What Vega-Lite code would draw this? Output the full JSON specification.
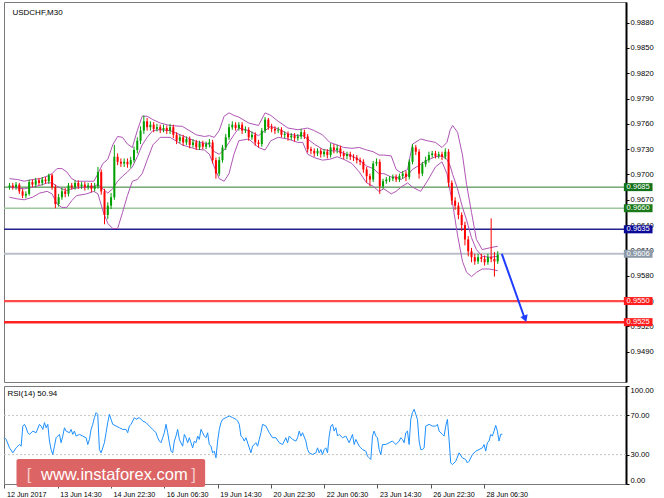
{
  "$schema": "https://vega.github.io/schema/vega-lite/v6.json",
  "background": "#ffffff",
  "padding": {"left": 1, "top": 1, "right": 0, "bottom": 0},
  "spacing": 2,
  "config": {
    "font": "Liberation Sans",
    "view": {"stroke": "#7a7a7a", "strokeWidth": 1},
    "axis": {"grid": false, "labels": true, "ticks": true, "labelFont": "Liberation Sans", "labelColor": "#000000", "tickColor": "#000000", "domainColor": "#000000"},
    "text": {"font": "Liberation Sans"}
  },
  "datasets": {
    "levels": [
      {"p": 0.9685, "lab": "0.9685"},
      {"p": 0.966, "lab": "0.9660"},
      {"p": 0.9635, "lab": "0.9635"},
      {"p": 0.9606, "lab": "0.9606"},
      {"p": 0.955, "lab": "0.9550"},
      {"p": 0.9525, "lab": "0.9525"}
    ],
    "arrow": [{"i": 601, "p": 0.9606}, {"i": 628, "p": 0.9532}],
    "arrowhead": [{"i": 629.5, "p": 0.9529}],
    "rsilevels": [{"v": 70}, {"v": 30}],
    "candles": [
      {"i":0,"o":0.9685,"h":0.969,"l":0.9682,"c":0.9687},
      {"i":4,"o":0.9687,"h":0.969,"l":0.9682,"c":0.9685},
      {"i":8,"o":0.9685,"h":0.9691,"l":0.9682,"c":0.9688},
      {"i":12,"o":0.9688,"h":0.969,"l":0.9677,"c":0.968},
      {"i":16,"o":0.968,"h":0.9683,"l":0.9672,"c":0.9675},
      {"i":20,"o":0.9675,"h":0.968,"l":0.9672,"c":0.9677},
      {"i":24,"o":0.9677,"h":0.9694,"l":0.9675,"c":0.9691},
      {"i":28,"o":0.9691,"h":0.9694,"l":0.9685,"c":0.9688},
      {"i":32,"o":0.9688,"h":0.9696,"l":0.9685,"c":0.9693},
      {"i":36,"o":0.9693,"h":0.9696,"l":0.9687,"c":0.969},
      {"i":40,"o":0.969,"h":0.9697,"l":0.9687,"c":0.9694},
      {"i":44,"o":0.9694,"h":0.9697,"l":0.9689,"c":0.9692},
      {"i":48,"o":0.9692,"h":0.9701,"l":0.9689,"c":0.9699},
      {"i":52,"o":0.9699,"h":0.9701,"l":0.9682,"c":0.9685},
      {"i":56,"o":0.9685,"h":0.9688,"l":0.966,"c":0.9665},
      {"i":60,"o":0.9665,"h":0.9677,"l":0.9662,"c":0.9673},
      {"i":64,"o":0.9673,"h":0.9684,"l":0.967,"c":0.968},
      {"i":68,"o":0.968,"h":0.9684,"l":0.9673,"c":0.9677},
      {"i":72,"o":0.9677,"h":0.969,"l":0.9674,"c":0.9687},
      {"i":76,"o":0.9687,"h":0.969,"l":0.9682,"c":0.9685},
      {"i":80,"o":0.9685,"h":0.9693,"l":0.9682,"c":0.969},
      {"i":84,"o":0.969,"h":0.9693,"l":0.9683,"c":0.9686},
      {"i":88,"o":0.9686,"h":0.9691,"l":0.9683,"c":0.9688},
      {"i":92,"o":0.9688,"h":0.9691,"l":0.9681,"c":0.9685},
      {"i":96,"o":0.9685,"h":0.969,"l":0.9682,"c":0.9687},
      {"i":100,"o":0.9687,"h":0.969,"l":0.9679,"c":0.9683},
      {"i":104,"o":0.9683,"h":0.969,"l":0.968,"c":0.9686},
      {"i":108,"o":0.9686,"h":0.9709,"l":0.9683,"c":0.9703},
      {"i":112,"o":0.9703,"h":0.9706,"l":0.9676,"c":0.968},
      {"i":116,"o":0.968,"h":0.9683,"l":0.9641,"c":0.9652},
      {"i":120,"o":0.9652,"h":0.9667,"l":0.9647,"c":0.9663},
      {"i":124,"o":0.9663,"h":0.9678,"l":0.9659,"c":0.9673},
      {"i":128,"o":0.9673,"h":0.9735,"l":0.967,"c":0.9721},
      {"i":132,"o":0.9721,"h":0.9725,"l":0.9711,"c":0.9715},
      {"i":136,"o":0.9715,"h":0.9719,"l":0.9709,"c":0.9713},
      {"i":140,"o":0.9713,"h":0.9719,"l":0.9709,"c":0.9715},
      {"i":144,"o":0.9715,"h":0.9719,"l":0.9708,"c":0.9712},
      {"i":148,"o":0.9712,"h":0.9721,"l":0.9708,"c":0.9717},
      {"i":152,"o":0.9717,"h":0.9733,"l":0.9714,"c":0.9729},
      {"i":156,"o":0.9729,"h":0.9744,"l":0.9725,"c":0.974},
      {"i":160,"o":0.974,"h":0.9757,"l":0.9736,"c":0.9752},
      {"i":164,"o":0.9752,"h":0.977,"l":0.9748,"c":0.9763},
      {"i":168,"o":0.9763,"h":0.9767,"l":0.9752,"c":0.9756},
      {"i":172,"o":0.9756,"h":0.9763,"l":0.9752,"c":0.9759},
      {"i":176,"o":0.9759,"h":0.9762,"l":0.975,"c":0.9754},
      {"i":180,"o":0.9754,"h":0.976,"l":0.9751,"c":0.9756},
      {"i":184,"o":0.9756,"h":0.9759,"l":0.9749,"c":0.9753},
      {"i":188,"o":0.9753,"h":0.9759,"l":0.975,"c":0.9755},
      {"i":192,"o":0.9755,"h":0.9758,"l":0.9748,"c":0.9752},
      {"i":196,"o":0.9752,"h":0.976,"l":0.9748,"c":0.9756},
      {"i":200,"o":0.9756,"h":0.9759,"l":0.9743,"c":0.9747},
      {"i":204,"o":0.9747,"h":0.975,"l":0.9736,"c":0.974},
      {"i":208,"o":0.974,"h":0.9747,"l":0.9737,"c":0.9744},
      {"i":212,"o":0.9744,"h":0.9747,"l":0.9734,"c":0.9738},
      {"i":216,"o":0.9738,"h":0.9745,"l":0.9735,"c":0.9742},
      {"i":220,"o":0.9742,"h":0.9745,"l":0.9731,"c":0.9735},
      {"i":224,"o":0.9735,"h":0.9742,"l":0.9732,"c":0.9738},
      {"i":228,"o":0.9738,"h":0.9741,"l":0.9729,"c":0.9732},
      {"i":232,"o":0.9732,"h":0.974,"l":0.9729,"c":0.9737},
      {"i":236,"o":0.9737,"h":0.974,"l":0.973,"c":0.9733},
      {"i":240,"o":0.9733,"h":0.9739,"l":0.973,"c":0.9736},
      {"i":244,"o":0.9736,"h":0.9742,"l":0.9732,"c":0.9738},
      {"i":248,"o":0.9738,"h":0.9741,"l":0.9713,"c":0.9717},
      {"i":252,"o":0.9717,"h":0.972,"l":0.9695,"c":0.9701},
      {"i":256,"o":0.9701,"h":0.9721,"l":0.9698,"c":0.9717},
      {"i":260,"o":0.9717,"h":0.9735,"l":0.9714,"c":0.9732},
      {"i":264,"o":0.9732,"h":0.9748,"l":0.9729,"c":0.9744},
      {"i":268,"o":0.9744,"h":0.976,"l":0.9741,"c":0.9756},
      {"i":272,"o":0.9756,"h":0.9763,"l":0.9753,"c":0.9759},
      {"i":276,"o":0.9759,"h":0.9762,"l":0.9752,"c":0.9755},
      {"i":280,"o":0.9755,"h":0.9762,"l":0.9752,"c":0.9759},
      {"i":284,"o":0.9759,"h":0.9762,"l":0.9748,"c":0.9752},
      {"i":288,"o":0.9752,"h":0.9757,"l":0.9749,"c":0.9753},
      {"i":292,"o":0.9753,"h":0.9756,"l":0.974,"c":0.9744},
      {"i":296,"o":0.9744,"h":0.9751,"l":0.9741,"c":0.9747},
      {"i":300,"o":0.9747,"h":0.975,"l":0.9734,"c":0.9738},
      {"i":304,"o":0.9738,"h":0.9741,"l":0.9732,"c":0.9736},
      {"i":308,"o":0.9736,"h":0.9755,"l":0.9733,"c":0.9752},
      {"i":312,"o":0.9752,"h":0.9768,"l":0.9749,"c":0.9765},
      {"i":316,"o":0.9765,"h":0.9767,"l":0.9753,"c":0.9756},
      {"i":320,"o":0.9756,"h":0.976,"l":0.975,"c":0.9754},
      {"i":324,"o":0.9754,"h":0.9757,"l":0.9748,"c":0.9752},
      {"i":328,"o":0.9752,"h":0.9756,"l":0.9749,"c":0.9753},
      {"i":332,"o":0.9753,"h":0.9756,"l":0.9744,"c":0.9747},
      {"i":336,"o":0.9747,"h":0.9751,"l":0.9743,"c":0.9748},
      {"i":340,"o":0.9748,"h":0.9751,"l":0.974,"c":0.9744},
      {"i":344,"o":0.9744,"h":0.9749,"l":0.9741,"c":0.9746},
      {"i":348,"o":0.9746,"h":0.9749,"l":0.9739,"c":0.9743},
      {"i":352,"o":0.9743,"h":0.9748,"l":0.974,"c":0.9745},
      {"i":356,"o":0.9745,"h":0.9754,"l":0.9742,"c":0.975},
      {"i":360,"o":0.975,"h":0.9753,"l":0.9742,"c":0.9745},
      {"i":364,"o":0.9745,"h":0.9748,"l":0.9726,"c":0.973},
      {"i":368,"o":0.973,"h":0.9733,"l":0.9724,"c":0.9728},
      {"i":372,"o":0.9728,"h":0.9731,"l":0.9721,"c":0.9725},
      {"i":376,"o":0.9725,"h":0.9731,"l":0.9722,"c":0.9728},
      {"i":380,"o":0.9728,"h":0.9731,"l":0.972,"c":0.9724},
      {"i":384,"o":0.9724,"h":0.973,"l":0.9721,"c":0.9727},
      {"i":388,"o":0.9727,"h":0.973,"l":0.9719,"c":0.9723},
      {"i":392,"o":0.9723,"h":0.9737,"l":0.972,"c":0.9732},
      {"i":396,"o":0.9732,"h":0.9736,"l":0.9725,"c":0.9729},
      {"i":400,"o":0.9729,"h":0.9735,"l":0.9725,"c":0.9731},
      {"i":404,"o":0.9731,"h":0.9734,"l":0.9721,"c":0.9725},
      {"i":408,"o":0.9725,"h":0.9728,"l":0.9718,"c":0.9722},
      {"i":412,"o":0.9722,"h":0.9727,"l":0.9718,"c":0.9724},
      {"i":416,"o":0.9724,"h":0.9727,"l":0.9717,"c":0.9721},
      {"i":420,"o":0.9721,"h":0.9724,"l":0.9716,"c":0.972},
      {"i":424,"o":0.972,"h":0.9723,"l":0.9713,"c":0.9717},
      {"i":428,"o":0.9717,"h":0.972,"l":0.9711,"c":0.9715},
      {"i":432,"o":0.9715,"h":0.9718,"l":0.9702,"c":0.9706},
      {"i":436,"o":0.9706,"h":0.9709,"l":0.969,"c":0.9698},
      {"i":440,"o":0.9698,"h":0.9701,"l":0.9686,"c":0.9694},
      {"i":444,"o":0.9694,"h":0.9716,"l":0.9691,"c":0.9713},
      {"i":448,"o":0.9713,"h":0.9719,"l":0.971,"c":0.9715},
      {"i":452,"o":0.9715,"h":0.9718,"l":0.9677,"c":0.9686},
      {"i":456,"o":0.9686,"h":0.9695,"l":0.9683,"c":0.9692},
      {"i":460,"o":0.9692,"h":0.9697,"l":0.9689,"c":0.9694},
      {"i":464,"o":0.9694,"h":0.9698,"l":0.9691,"c":0.9695},
      {"i":468,"o":0.9695,"h":0.97,"l":0.9692,"c":0.9697},
      {"i":472,"o":0.9697,"h":0.97,"l":0.9691,"c":0.9694},
      {"i":476,"o":0.9694,"h":0.9701,"l":0.9691,"c":0.9698},
      {"i":480,"o":0.9698,"h":0.9704,"l":0.9695,"c":0.9701},
      {"i":484,"o":0.9701,"h":0.9704,"l":0.9692,"c":0.9697},
      {"i":488,"o":0.9697,"h":0.9718,"l":0.9694,"c":0.9715},
      {"i":492,"o":0.9715,"h":0.9736,"l":0.9712,"c":0.9732},
      {"i":496,"o":0.9732,"h":0.9735,"l":0.9723,"c":0.9727},
      {"i":500,"o":0.9727,"h":0.973,"l":0.9695,"c":0.9701},
      {"i":504,"o":0.9701,"h":0.9715,"l":0.9698,"c":0.9712},
      {"i":508,"o":0.9712,"h":0.9721,"l":0.9709,"c":0.9717},
      {"i":512,"o":0.9717,"h":0.9727,"l":0.9714,"c":0.9723},
      {"i":516,"o":0.9723,"h":0.9728,"l":0.972,"c":0.9725},
      {"i":520,"o":0.9725,"h":0.9728,"l":0.9719,"c":0.9722},
      {"i":524,"o":0.9722,"h":0.9727,"l":0.9719,"c":0.9724},
      {"i":528,"o":0.9724,"h":0.9727,"l":0.9717,"c":0.9721},
      {"i":532,"o":0.9721,"h":0.9731,"l":0.9718,"c":0.9727},
      {"i":536,"o":0.9727,"h":0.973,"l":0.9685,"c":0.969},
      {"i":540,"o":0.969,"h":0.9693,"l":0.9664,"c":0.9669},
      {"i":544,"o":0.9669,"h":0.9673,"l":0.9658,"c":0.9663},
      {"i":548,"o":0.9663,"h":0.9667,"l":0.9647,"c":0.9652},
      {"i":552,"o":0.9652,"h":0.9655,"l":0.9633,"c":0.964},
      {"i":556,"o":0.964,"h":0.9644,"l":0.9616,"c":0.9623},
      {"i":560,"o":0.9623,"h":0.9627,"l":0.9603,"c":0.9609},
      {"i":564,"o":0.9609,"h":0.9613,"l":0.9596,"c":0.9602},
      {"i":568,"o":0.9602,"h":0.9606,"l":0.9593,"c":0.9597},
      {"i":572,"o":0.9597,"h":0.9606,"l":0.9594,"c":0.9602},
      {"i":576,"o":0.9602,"h":0.9606,"l":0.9596,"c":0.96},
      {"i":580,"o":0.96,"h":0.9604,"l":0.9592,"c":0.9596},
      {"i":584,"o":0.9596,"h":0.9606,"l":0.9593,"c":0.9602},
      {"i":588,"o":0.9602,"h":0.9648,"l":0.9596,"c":0.96},
      {"i":592,"o":0.96,"h":0.9608,"l":0.9579,"c":0.9597},
      {"i":596,"o":0.9597,"h":0.9609,"l":0.9594,"c":0.9605}
    ],
    "bands": [
      {"i":0,"u":0.9695,"m":0.9685,"l":0.9673},
      {"i":10,"u":0.9694,"m":0.9684,"l":0.9671},
      {"i":18,"u":0.9692,"m":0.9683,"l":0.967},
      {"i":28,"u":0.9694,"m":0.9685,"l":0.9673},
      {"i":37,"u":0.9695,"m":0.9687,"l":0.9678},
      {"i":46,"u":0.9698,"m":0.969,"l":0.968},
      {"i":52,"u":0.9701,"m":0.969,"l":0.9677},
      {"i":58,"u":0.9707,"m":0.9686,"l":0.9665},
      {"i":64,"u":0.9707,"m":0.9683,"l":0.9661},
      {"i":70,"u":0.9703,"m":0.9681,"l":0.9661},
      {"i":76,"u":0.9695,"m":0.9683,"l":0.9669},
      {"i":82,"u":0.9692,"m":0.9684,"l":0.9675},
      {"i":94,"u":0.9692,"m":0.9685,"l":0.9677},
      {"i":103,"u":0.9692,"m":0.9686,"l":0.968},
      {"i":108,"u":0.9701,"m":0.9688,"l":0.9677},
      {"i":114,"u":0.9713,"m":0.9683,"l":0.9657},
      {"i":120,"u":0.9718,"m":0.9678,"l":0.9642},
      {"i":126,"u":0.9735,"m":0.9683,"l":0.9636},
      {"i":132,"u":0.9745,"m":0.9692,"l":0.9636},
      {"i":138,"u":0.9744,"m":0.9698,"l":0.9655},
      {"i":144,"u":0.9736,"m":0.9703,"l":0.9675},
      {"i":150,"u":0.9732,"m":0.9709,"l":0.9692},
      {"i":156,"u":0.9752,"m":0.9721,"l":0.9694},
      {"i":162,"u":0.9769,"m":0.9735,"l":0.9701},
      {"i":168,"u":0.9769,"m":0.9744,"l":0.9717},
      {"i":175,"u":0.9765,"m":0.9752,"l":0.9735},
      {"i":184,"u":0.9761,"m":0.9753,"l":0.9744},
      {"i":196,"u":0.9758,"m":0.9752,"l":0.9744},
      {"i":211,"u":0.9757,"m":0.9746,"l":0.9735},
      {"i":228,"u":0.9747,"m":0.9739,"l":0.973},
      {"i":238,"u":0.9745,"m":0.9737,"l":0.9729},
      {"i":244,"u":0.9746,"m":0.9736,"l":0.9724},
      {"i":250,"u":0.9744,"m":0.9727,"l":0.9709},
      {"i":256,"u":0.9752,"m":0.9724,"l":0.9695},
      {"i":262,"u":0.9769,"m":0.9729,"l":0.9692},
      {"i":268,"u":0.9773,"m":0.9738,"l":0.9701},
      {"i":274,"u":0.977,"m":0.9747,"l":0.9724},
      {"i":280,"u":0.9768,"m":0.9755,"l":0.974},
      {"i":292,"u":0.9761,"m":0.9752,"l":0.9742},
      {"i":304,"u":0.9758,"m":0.9746,"l":0.9732},
      {"i":312,"u":0.9773,"m":0.9752,"l":0.9729},
      {"i":319,"u":0.977,"m":0.9757,"l":0.974},
      {"i":328,"u":0.9763,"m":0.9754,"l":0.9744},
      {"i":340,"u":0.9755,"m":0.9748,"l":0.9742},
      {"i":352,"u":0.9753,"m":0.9746,"l":0.9738},
      {"i":358,"u":0.9754,"m":0.9746,"l":0.9738},
      {"i":364,"u":0.9755,"m":0.9742,"l":0.9724},
      {"i":372,"u":0.9752,"m":0.9736,"l":0.972},
      {"i":382,"u":0.9747,"m":0.973,"l":0.9717},
      {"i":391,"u":0.9738,"m":0.9728,"l":0.9718},
      {"i":400,"u":0.9735,"m":0.9728,"l":0.9721},
      {"i":408,"u":0.9732,"m":0.9725,"l":0.9718},
      {"i":418,"u":0.9731,"m":0.9722,"l":0.9713},
      {"i":427,"u":0.9732,"m":0.9717,"l":0.9703},
      {"i":436,"u":0.9729,"m":0.971,"l":0.969},
      {"i":444,"u":0.9727,"m":0.9707,"l":0.9686},
      {"i":451,"u":0.9723,"m":0.9701,"l":0.968},
      {"i":457,"u":0.9723,"m":0.9701,"l":0.9683},
      {"i":466,"u":0.9722,"m":0.9697,"l":0.9677},
      {"i":472,"u":0.9706,"m":0.9697,"l":0.968},
      {"i":478,"u":0.9702,"m":0.9694,"l":0.9685},
      {"i":486,"u":0.9706,"m":0.9699,"l":0.969},
      {"i":492,"u":0.9736,"m":0.9706,"l":0.9685},
      {"i":502,"u":0.9742,"m":0.9712,"l":0.968},
      {"i":510,"u":0.974,"m":0.9717,"l":0.9692},
      {"i":520,"u":0.9738,"m":0.9721,"l":0.9709},
      {"i":528,"u":0.9732,"m":0.9722,"l":0.9715},
      {"i":534,"u":0.9738,"m":0.9718,"l":0.9701},
      {"i":538,"u":0.9753,"m":0.971,"l":0.968},
      {"i":541,"u":0.9758,"m":0.97,"l":0.9665},
      {"i":547,"u":0.975,"m":0.9683,"l":0.9628},
      {"i":553,"u":0.9723,"m":0.9661,"l":0.9597},
      {"i":558,"u":0.9688,"m":0.9646,"l":0.9584},
      {"i":564,"u":0.9655,"m":0.9625,"l":0.9579},
      {"i":570,"u":0.9623,"m":0.9611,"l":0.9584},
      {"i":577,"u":0.9611,"m":0.9603,"l":0.9588},
      {"i":586,"u":0.9613,"m":0.9602,"l":0.9588},
      {"i":596,"u":0.9615,"m":0.9603,"l":0.9586}
    ],
    "rsi": [
      {"i":0,"v":47.2},{"i":2,"v":45.5},{"i":6,"v":36.9},{"i":10,"v":31.8},{"i":14,"v":36.9},{"i":18,"v":40.3},{"i":20,"v":38.6},{"i":22,"v":59.1},{"i":24,"v":60.9},{"i":26,"v":57.4},{"i":28,"v":52.3},{"i":30,"v":50.6},{"i":34,"v":54.0},{"i":38,"v":52.3},{"i":42,"v":60.9},{"i":44,"v":59.1},{"i":46,"v":55.7},{"i":48,"v":62.6},{"i":50,"v":57.4},{"i":52,"v":60.9},{"i":54,"v":43.8},{"i":56,"v":35.2},{"i":58,"v":30.1},{"i":60,"v":38.6},{"i":62,"v":47.2},{"i":66,"v":50.6},{"i":68,"v":42.1},{"i":70,"v":48.9},{"i":72,"v":57.4},{"i":74,"v":54.0},{"i":78,"v":52.3},{"i":80,"v":55.7},{"i":82,"v":50.6},{"i":84,"v":54.0},{"i":86,"v":48.9},{"i":90,"v":50.6},{"i":94,"v":48.9},{"i":98,"v":47.2},{"i":100,"v":40.3},{"i":102,"v":45.5},{"i":104,"v":55.7},{"i":106,"v":60.9},{"i":108,"v":67.7},{"i":110,"v":72.8},{"i":112,"v":71.1},{"i":114,"v":35.2},{"i":116,"v":31.8},{"i":118,"v":36.9},{"i":120,"v":42.1},{"i":122,"v":52.3},{"i":124,"v":62.6},{"i":126,"v":71.1},{"i":128,"v":66.0},{"i":130,"v":60.9},{"i":134,"v":59.1},{"i":138,"v":57.4},{"i":142,"v":55.7},{"i":146,"v":55.7},{"i":148,"v":52.3},{"i":150,"v":59.1},{"i":152,"v":60.9},{"i":154,"v":64.3},{"i":156,"v":67.7},{"i":158,"v":66.0},{"i":162,"v":67.7},{"i":166,"v":64.3},{"i":170,"v":62.6},{"i":174,"v":59.1},{"i":178,"v":55.7},{"i":182,"v":52.3},{"i":184,"v":47.2},{"i":186,"v":43.8},{"i":188,"v":42.1},{"i":190,"v":47.2},{"i":192,"v":52.3},{"i":194,"v":60.9},{"i":196,"v":52.3},{"i":198,"v":42.1},{"i":200,"v":33.5},{"i":202,"v":31.8},{"i":204,"v":43.8},{"i":206,"v":48.9},{"i":208,"v":55.7},{"i":210,"v":45.5},{"i":214,"v":38.6},{"i":216,"v":50.6},{"i":218,"v":47.2},{"i":220,"v":42.1},{"i":222,"v":47.2},{"i":224,"v":42.1},{"i":226,"v":36.9},{"i":228,"v":43.8},{"i":230,"v":42.1},{"i":232,"v":48.9},{"i":234,"v":45.5},{"i":236,"v":55.7},{"i":238,"v":52.3},{"i":240,"v":48.9},{"i":242,"v":47.2},{"i":244,"v":52.3},{"i":246,"v":40.3},{"i":248,"v":38.6},{"i":250,"v":31.8},{"i":252,"v":33.5},{"i":254,"v":26.7},{"i":256,"v":43.8},{"i":258,"v":55.7},{"i":260,"v":62.6},{"i":262,"v":66.0},{"i":266,"v":67.7},{"i":270,"v":69.4},{"i":274,"v":67.7},{"i":278,"v":66.0},{"i":280,"v":64.3},{"i":282,"v":60.9},{"i":284,"v":48.9},{"i":286,"v":47.2},{"i":288,"v":43.8},{"i":290,"v":47.2},{"i":294,"v":36.9},{"i":296,"v":31.8},{"i":298,"v":38.6},{"i":302,"v":42.1},{"i":304,"v":38.6},{"i":306,"v":45.5},{"i":308,"v":52.3},{"i":310,"v":60.9},{"i":314,"v":59.1},{"i":318,"v":52.3},{"i":322,"v":47.2},{"i":326,"v":47.2},{"i":330,"v":42.1},{"i":334,"v":40.3},{"i":338,"v":47.2},{"i":340,"v":42.1},{"i":342,"v":48.9},{"i":346,"v":45.5},{"i":350,"v":43.8},{"i":352,"v":47.2},{"i":354,"v":54.0},{"i":356,"v":48.9},{"i":358,"v":52.3},{"i":362,"v":43.8},{"i":364,"v":35.2},{"i":366,"v":31.8},{"i":370,"v":30.1},{"i":374,"v":31.8},{"i":376,"v":36.9},{"i":378,"v":31.8},{"i":380,"v":35.2},{"i":382,"v":30.1},{"i":384,"v":35.2},{"i":386,"v":36.9},{"i":388,"v":31.8},{"i":390,"v":48.9},{"i":392,"v":59.1},{"i":394,"v":60.9},{"i":396,"v":54.0},{"i":398,"v":57.4},{"i":400,"v":48.9},{"i":402,"v":50.6},{"i":406,"v":47.2},{"i":410,"v":48.9},{"i":414,"v":42.1},{"i":418,"v":50.6},{"i":420,"v":40.3},{"i":422,"v":45.5},{"i":426,"v":38.6},{"i":428,"v":36.9},{"i":430,"v":35.2},{"i":434,"v":33.5},{"i":436,"v":28.4},{"i":438,"v":26.7},{"i":440,"v":25.0},{"i":442,"v":48.9},{"i":444,"v":54.0},{"i":446,"v":48.9},{"i":448,"v":47.2},{"i":450,"v":35.2},{"i":452,"v":30.1},{"i":454,"v":40.3},{"i":458,"v":40.3},{"i":462,"v":42.1},{"i":466,"v":43.8},{"i":470,"v":40.3},{"i":474,"v":43.8},{"i":476,"v":47.2},{"i":478,"v":45.5},{"i":480,"v":42.1},{"i":482,"v":52.3},{"i":484,"v":54.0},{"i":486,"v":40.3},{"i":488,"v":66.0},{"i":490,"v":72.8},{"i":492,"v":76.2},{"i":494,"v":71.1},{"i":496,"v":66.0},{"i":498,"v":43.8},{"i":500,"v":35.2},{"i":502,"v":35.2},{"i":504,"v":36.9},{"i":506,"v":59.1},{"i":510,"v":60.9},{"i":514,"v":59.1},{"i":518,"v":59.1},{"i":520,"v":60.9},{"i":522,"v":54.0},{"i":526,"v":50.6},{"i":528,"v":48.9},{"i":530,"v":59.1},{"i":532,"v":66.0},{"i":534,"v":45.0},{"i":536,"v":21.5},{"i":538,"v":19.8},{"i":542,"v":23.2},{"i":546,"v":31.8},{"i":550,"v":26.7},{"i":554,"v":25.0},{"i":556,"v":21.5},{"i":558,"v":23.2},{"i":562,"v":30.1},{"i":566,"v":33.5},{"i":570,"v":35.2},{"i":574,"v":36.9},{"i":576,"v":40.3},{"i":578,"v":33.5},{"i":580,"v":42.1},{"i":582,"v":43.8},{"i":584,"v":50.6},{"i":586,"v":48.9},{"i":588,"v":54.0},{"i":590,"v":59.8},{"i":592,"v":54.0},{"i":594,"v":43.8},{"i":596,"v":50.6},{"i":598,"v":50.94}
    ]
  },
  "vconcat": [
    {
      "width": 622,
      "height": 380,
      "resolve": {"axis": {"x": "independent", "y": "independent"}},
      "layer": [
        {
          "data": {"name": "levels"},
          "mark": {"type": "rule"},
          "encoding": {
            "y": {"field": "p", "type": "quantitative", "scale": {"domain": [0.946, 0.989846], "nice": false, "zero": false},
              "axis": {"orient": "right", "values": [0.949, 0.952, 0.955, 0.958, 0.961, 0.964, 0.967, 0.97, 0.973, 0.976, 0.979, 0.982, 0.985, 0.988], "format": ".4f", "title": null, "labelFontSize": 7.6, "tickSize": 3, "labelPadding": 1, "domainWidth": 2}},
            "stroke": {"field": "lab", "type": "nominal", "scale": {"domain": ["0.9685", "0.9660", "0.9635", "0.9606", "0.9550", "0.9525"], "range": ["#2b7a2b", "#9cc79c", "#22228c", "#b9c0c9", "#ff4a4a", "#ff2222"]}, "legend": null},
            "strokeWidth": {"field": "lab", "type": "ordinal", "scale": {"domain": ["0.9685", "0.9660", "0.9635", "0.9606", "0.9550", "0.9525"], "range": [1, 2.5, 1, 2, 1, 2]}, "legend": null}
          }
        },
        {
          "data": {"name": "bands"},
          "mark": {"type": "line", "color": "#b055b5", "strokeWidth": 1},
          "encoding": {
            "x": {"field": "i", "type": "quantitative", "scale": {"domain": [-0.6, 746.5], "nice": false, "zero": false}, "axis": null},
            "y": {"field": "u", "type": "quantitative", "axis": null}
          }
        },
        {
          "data": {"name": "bands"},
          "mark": {"type": "line", "color": "#b055b5", "strokeWidth": 1},
          "encoding": {
            "x": {"field": "i", "type": "quantitative", "axis": null},
            "y": {"field": "m", "type": "quantitative", "axis": null}
          }
        },
        {
          "data": {"name": "bands"},
          "mark": {"type": "line", "color": "#b055b5", "strokeWidth": 1},
          "encoding": {
            "x": {"field": "i", "type": "quantitative", "axis": null},
            "y": {"field": "l", "type": "quantitative", "axis": null}
          }
        },
        {
          "data": {"name": "candles"},
          "mark": {"type": "rule", "strokeWidth": 1},
          "encoding": {
            "x": {"field": "i", "type": "quantitative", "axis": null},
            "y": {"field": "l", "type": "quantitative", "axis": null},
            "y2": {"field": "h"},
            "color": {"condition": {"test": "datum.c >= datum.o", "value": "#00a000"}, "value": "#ff0000"}
          }
        },
        {
          "data": {"name": "candles"},
          "mark": {"type": "bar", "width": 2},
          "encoding": {
            "x": {"field": "i", "type": "quantitative", "axis": null},
            "y": {"field": "o", "type": "quantitative", "axis": null},
            "y2": {"field": "c"},
            "color": {"condition": {"test": "datum.c >= datum.o", "value": "#00a000"}, "value": "#ff0000"}
          }
        },
        {
          "data": {"name": "arrow"},
          "mark": {"type": "line", "color": "#1f3cff", "strokeWidth": 2},
          "encoding": {
            "x": {"field": "i", "type": "quantitative", "axis": null},
            "y": {"field": "p", "type": "quantitative", "axis": null}
          }
        },
        {
          "data": {"name": "arrowhead"},
          "mark": {"type": "point", "shape": "triangle-down", "filled": true, "size": 60, "angle": 340, "color": "#1f3cff", "opacity": 1},
          "encoding": {
            "x": {"field": "i", "type": "quantitative", "axis": null},
            "y": {"field": "p", "type": "quantitative", "axis": null}
          }
        },
        {
          "data": {"name": "levels"},
          "mark": {"type": "bar", "orient": "horizontal", "height": 8},
          "encoding": {
            "x": {"datum": 750, "type": "quantitative", "axis": null},
            "x2": {"datum": 785},
            "y": {"field": "p", "type": "quantitative", "axis": null},
            "fill": {"field": "lab", "type": "nominal", "scale": {"domain": ["0.9685", "0.9660", "0.9635", "0.9606", "0.9550", "0.9525"], "range": ["#12721a", "#1a7a1a", "#0a0a96", "#8d9aa8", "#ff1c1c", "#ff1c1c"]}, "legend": null}
          }
        },
        {
          "data": {"name": "levels"},
          "mark": {"type": "text", "color": "#ffffff", "fontSize": 7.6, "align": "center", "baseline": "middle"},
          "encoding": {
            "x": {"datum": 767.5, "type": "quantitative", "axis": null},
            "y": {"field": "p", "type": "quantitative", "axis": null},
            "text": {"field": "lab"}
          }
        },
        {
          "data": {"values": [{}]},
          "mark": {"type": "text", "text": "USDCHF,M30", "color": "#000000", "fontSize": 8, "align": "left", "baseline": "middle"},
          "encoding": {
            "x": {"datum": 3.6, "type": "quantitative", "axis": null},
            "y": {"datum": 0.98915, "type": "quantitative", "axis": null}
          }
        }
      ]
    },
    {
      "width": 622,
      "height": 98,
      "resolve": {"axis": {"x": "independent", "y": "independent"}},
      "layer": [
        {
          "data": {"name": "rsilevels"},
          "mark": {"type": "rule", "color": "#c4c4c4", "strokeDash": [2, 2], "strokeWidth": 1},
          "encoding": {
            "y": {"field": "v", "type": "quantitative", "scale": {"domain": [0, 100], "nice": false, "zero": false},
              "axis": {"orient": "right", "values": [0, 30, 70, 100], "format": ".2f", "title": null, "labelFontSize": 7.6, "tickSize": 3, "labelPadding": 1, "domainWidth": 2, "labelFlush": true}}
          }
        },
        {
          "data": {"name": "rsi"},
          "mark": {"type": "line", "color": "#1e90ff", "strokeWidth": 1},
          "encoding": {
            "x": {"field": "i", "type": "quantitative", "scale": {"domain": [-0.6, 746.5], "nice": false, "zero": false},
              "axis": {"orient": "bottom", "values": [0, 64, 128, 192, 256, 320, 384, 448, 512, 576], "labelExpr": "['12 Jun 2017','13 Jun 14:30','14 Jun 22:30','16 Jun 06:30','19 Jun 14:30','20 Jun 22:30','22 Jun 06:30','23 Jun 14:30','26 Jun 22:30','28 Jun 06:30'][round(datum.value / 64)]", "labelAlign": "left", "labelOffset": 2, "labelFontSize": 7.2, "tickSize": 4, "labelPadding": 2, "title": null, "labelFlush": false, "domain": false, "tickColor": "#555555"}},
            "y": {"field": "v", "type": "quantitative", "axis": null}
          }
        },
        {
          "data": {"values": [{}]},
          "mark": {"type": "rect", "color": "#dc6464", "cornerRadius": 2},
          "encoding": {
            "x": {"datum": 14.4, "type": "quantitative", "axis": null},
            "x2": {"datum": 241},
            "y": {"datum": 25.6, "type": "quantitative", "axis": null},
            "y2": {"datum": -3}
          }
        },
        {
          "data": {"values": [{}]},
          "mark": {"type": "text", "text": "www.instaforex.com", "color": "#ffffff", "fontSize": 16.5, "align": "center", "baseline": "alphabetic"},
          "encoding": {
            "x": {"datum": 132, "type": "quantitative", "axis": null},
            "y": {"datum": 4.1, "type": "quantitative", "axis": null}
          }
        },
        {
          "data": {"values": [{}]},
          "mark": {"type": "text", "text": "[", "color": "#f6cccc", "fontSize": 16.5, "align": "center", "baseline": "alphabetic"},
          "encoding": {
            "x": {"datum": 29.4, "type": "quantitative", "axis": null},
            "y": {"datum": 4.1, "type": "quantitative", "axis": null}
          }
        },
        {
          "data": {"values": [{}]},
          "mark": {"type": "text", "text": "]", "color": "#f6cccc", "fontSize": 16.5, "align": "center", "baseline": "alphabetic"},
          "encoding": {
            "x": {"datum": 227, "type": "quantitative", "axis": null},
            "y": {"datum": 4.1, "type": "quantitative", "axis": null}
          }
        },
        {
          "data": {"values": [{}]},
          "mark": {"type": "text", "text": "RSI(14) 50.94", "color": "#000000", "fontSize": 8, "align": "left", "baseline": "middle"},
          "encoding": {
            "x": {"datum": 3.6, "type": "quantitative", "axis": null},
            "y": {"datum": 92, "type": "quantitative", "axis": null}
          }
        }
      ]
    }
  ]
}
